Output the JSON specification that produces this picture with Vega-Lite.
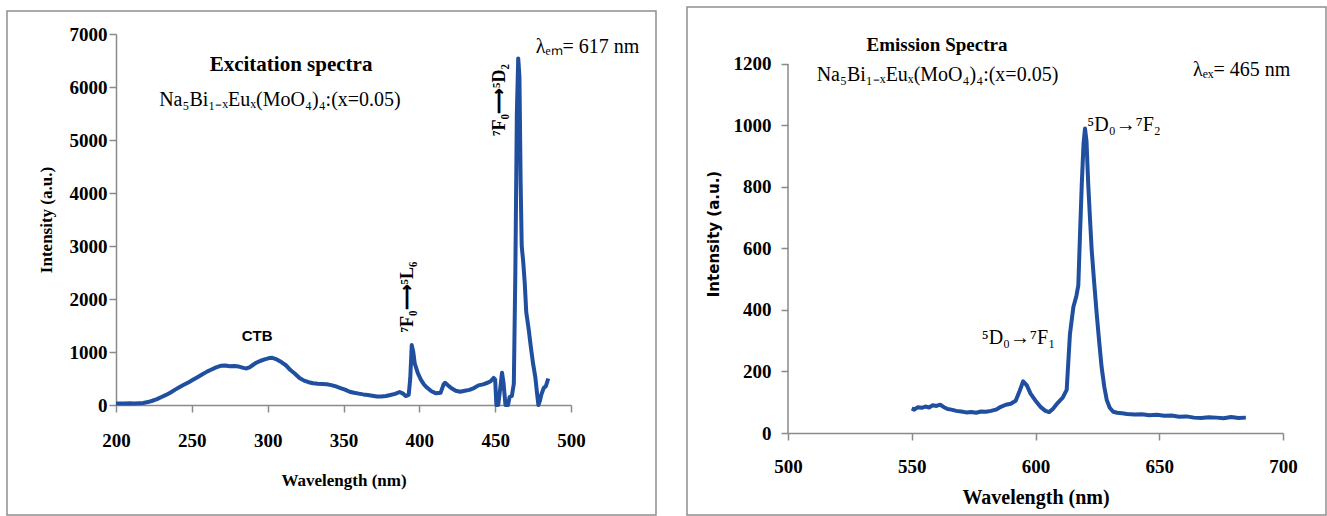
{
  "$schema": "https://vega.github.io/schema/vega-lite/v6.json",
  "padding": {"left": 6, "top": 6, "right": 0, "bottom": 0},
  "background": "white",
  "spacing": 29,
  "config": {
    "view": {"stroke": null},
    "axis": {
      "grid": false,
      "domainColor": "#8a8a8a",
      "tickColor": "#8a8a8a",
      "domainWidth": 1.5,
      "tickWidth": 1.5,
      "tickSize": 7,
      "labelFont": "Liberation Serif",
      "labelFontWeight": "bold",
      "labelFontSize": 19,
      "labelColor": "black",
      "titleColor": "black",
      "labelFlush": false,
      "labelOverlap": false,
      "labelBound": false
    },
    "text": {"color": "black"}
  },
  "datasets": {
    "excitation": [
      {"wl": 200, "i": 28}, {"wl": 203, "i": 30}, {"wl": 206, "i": 28}, {"wl": 209, "i": 32}, {"wl": 212, "i": 30},
      {"wl": 215, "i": 35}, {"wl": 218, "i": 38}, {"wl": 221, "i": 55}, {"wl": 224, "i": 80}, {"wl": 227, "i": 110},
      {"wl": 230, "i": 150}, {"wl": 233, "i": 190}, {"wl": 236, "i": 235}, {"wl": 239, "i": 290}, {"wl": 242, "i": 340},
      {"wl": 245, "i": 385}, {"wl": 248, "i": 430}, {"wl": 251, "i": 480}, {"wl": 254, "i": 530}, {"wl": 257, "i": 580},
      {"wl": 260, "i": 630}, {"wl": 263, "i": 670}, {"wl": 266, "i": 710}, {"wl": 269, "i": 740}, {"wl": 272, "i": 745},
      {"wl": 275, "i": 730}, {"wl": 278, "i": 735}, {"wl": 281, "i": 725}, {"wl": 284, "i": 700}, {"wl": 286, "i": 690},
      {"wl": 288, "i": 710}, {"wl": 290, "i": 750}, {"wl": 292, "i": 790}, {"wl": 295, "i": 830}, {"wl": 298, "i": 860},
      {"wl": 301, "i": 885}, {"wl": 303, "i": 890}, {"wl": 306, "i": 860}, {"wl": 309, "i": 810}, {"wl": 312, "i": 750},
      {"wl": 315, "i": 660}, {"wl": 318, "i": 590}, {"wl": 321, "i": 510}, {"wl": 324, "i": 460}, {"wl": 327, "i": 430},
      {"wl": 330, "i": 410}, {"wl": 333, "i": 400}, {"wl": 336, "i": 395}, {"wl": 339, "i": 390}, {"wl": 342, "i": 375},
      {"wl": 345, "i": 350}, {"wl": 348, "i": 320}, {"wl": 351, "i": 290}, {"wl": 354, "i": 250}, {"wl": 357, "i": 230},
      {"wl": 360, "i": 215}, {"wl": 363, "i": 200}, {"wl": 366, "i": 190}, {"wl": 369, "i": 175}, {"wl": 372, "i": 160},
      {"wl": 375, "i": 160}, {"wl": 378, "i": 170}, {"wl": 381, "i": 190}, {"wl": 384, "i": 210}, {"wl": 387, "i": 245},
      {"wl": 389, "i": 220}, {"wl": 391, "i": 170}, {"wl": 393, "i": 190}, {"wl": 394, "i": 500}, {"wl": 395, "i": 1130},
      {"wl": 396, "i": 1000}, {"wl": 397, "i": 780}, {"wl": 399, "i": 600}, {"wl": 401, "i": 480}, {"wl": 403, "i": 390},
      {"wl": 405, "i": 330}, {"wl": 408, "i": 260}, {"wl": 411, "i": 220}, {"wl": 414, "i": 230}, {"wl": 416, "i": 390},
      {"wl": 417, "i": 420}, {"wl": 419, "i": 370}, {"wl": 421, "i": 320}, {"wl": 424, "i": 270}, {"wl": 427, "i": 250},
      {"wl": 430, "i": 270}, {"wl": 433, "i": 285}, {"wl": 436, "i": 320}, {"wl": 439, "i": 370}, {"wl": 442, "i": 390},
      {"wl": 445, "i": 420}, {"wl": 447, "i": 450}, {"wl": 448, "i": 480}, {"wl": 449, "i": 510}, {"wl": 450, "i": 480},
      {"wl": 450.8, "i": 0}, {"wl": 452, "i": 0}, {"wl": 453.5, "i": 350}, {"wl": 454.5, "i": 610}, {"wl": 455.5, "i": 420},
      {"wl": 456.8, "i": 0}, {"wl": 458.5, "i": 0}, {"wl": 459.5, "i": 150}, {"wl": 461, "i": 170}, {"wl": 462.3, "i": 400},
      {"wl": 463.3, "i": 2500}, {"wl": 464.3, "i": 5500}, {"wl": 465.2, "i": 6540}, {"wl": 466, "i": 6200}, {"wl": 466.8, "i": 4200},
      {"wl": 467.5, "i": 3000}, {"wl": 468.5, "i": 2700}, {"wl": 469.5, "i": 2300}, {"wl": 470.5, "i": 1750}, {"wl": 472, "i": 1450},
      {"wl": 473.5, "i": 1100}, {"wl": 475, "i": 780}, {"wl": 476.5, "i": 520}, {"wl": 477.5, "i": 250}, {"wl": 478.5, "i": 0},
      {"wl": 479.5, "i": 80}, {"wl": 480.5, "i": 200}, {"wl": 482, "i": 320}, {"wl": 483.5, "i": 360}, {"wl": 485, "i": 500}
    ],
    "emission": [
      {"wl": 550, "i": 80}, {"wl": 551, "i": 76}, {"wl": 552.5, "i": 84}, {"wl": 554, "i": 82}, {"wl": 555.5, "i": 86},
      {"wl": 557, "i": 83}, {"wl": 558.5, "i": 90}, {"wl": 560, "i": 88}, {"wl": 561.5, "i": 92}, {"wl": 563, "i": 84},
      {"wl": 564.5, "i": 78}, {"wl": 566, "i": 76}, {"wl": 568, "i": 72}, {"wl": 570, "i": 70}, {"wl": 572, "i": 67},
      {"wl": 574, "i": 68}, {"wl": 576, "i": 66}, {"wl": 578, "i": 70}, {"wl": 580, "i": 69}, {"wl": 582, "i": 72},
      {"wl": 584, "i": 76}, {"wl": 586, "i": 85}, {"wl": 588, "i": 92}, {"wl": 590, "i": 95}, {"wl": 592, "i": 105},
      {"wl": 593.5, "i": 135}, {"wl": 595, "i": 168}, {"wl": 596.5, "i": 155}, {"wl": 598, "i": 128}, {"wl": 600, "i": 105},
      {"wl": 602, "i": 85}, {"wl": 604, "i": 72}, {"wl": 605.5, "i": 68}, {"wl": 607, "i": 78}, {"wl": 609, "i": 98},
      {"wl": 611, "i": 115}, {"wl": 612.6, "i": 140}, {"wl": 613.9, "i": 320}, {"wl": 615.3, "i": 410}, {"wl": 616.5, "i": 445},
      {"wl": 617.3, "i": 480}, {"wl": 618, "i": 650}, {"wl": 618.7, "i": 810}, {"wl": 619.4, "i": 940}, {"wl": 620, "i": 990},
      {"wl": 620.6, "i": 950}, {"wl": 621.3, "i": 810}, {"wl": 622, "i": 700}, {"wl": 622.7, "i": 595}, {"wl": 623.7, "i": 490},
      {"wl": 624.7, "i": 390}, {"wl": 625.7, "i": 300}, {"wl": 626.7, "i": 215}, {"wl": 627.8, "i": 150}, {"wl": 628.8, "i": 107},
      {"wl": 630, "i": 82}, {"wl": 631.4, "i": 69}, {"wl": 633, "i": 66}, {"wl": 635, "i": 64}, {"wl": 637, "i": 62},
      {"wl": 640, "i": 60}, {"wl": 643, "i": 61}, {"wl": 646, "i": 58}, {"wl": 649, "i": 59}, {"wl": 652, "i": 56},
      {"wl": 655, "i": 57}, {"wl": 658, "i": 53}, {"wl": 661, "i": 54}, {"wl": 664, "i": 50}, {"wl": 667, "i": 49},
      {"wl": 670, "i": 51}, {"wl": 673, "i": 50}, {"wl": 676, "i": 48}, {"wl": 679, "i": 52}, {"wl": 682, "i": 49},
      {"wl": 685, "i": 50}
    ]
  },
  "hconcat": [
    {
      "width": 455,
      "height": 371,
      "layer": [
        {
          "data": {"values": [{"frame": "left"}]},
          "mark": {"type": "rect", "fillOpacity": 0, "stroke": "#8f8f8f", "strokeWidth": 1.5},
          "encoding": {
            "x": {"datum": 128.13, "type": "quantitative"},
            "x2": {"datum": 556.04},
            "y": {"datum": -2075, "type": "quantitative"},
            "y2": {"datum": 7434}
          }
        },
        {
          "data": {"name": "excitation"},
          "mark": {"type": "line", "color": "#1f4f9e", "strokeWidth": 4, "strokeJoin": "round"},
          "encoding": {
            "x": {
              "field": "wl", "type": "quantitative",
              "scale": {"domain": [200, 500], "nice": false, "zero": false},
              "axis": {
                "title": "Wavelength (nm)",
                "values": [200, 250, 300, 350, 400, 450, 500],
                "format": "d",
                "labelPadding": 19,
                "titleFont": "Liberation Serif", "titleFontSize": 17, "titleFontWeight": "bold",
                "titlePadding": 22
              }
            },
            "y": {
              "field": "i", "type": "quantitative",
              "scale": {"domain": [0, 7000], "nice": false},
              "axis": {
                "title": "Intensity (a.u.)",
                "values": [0, 1000, 2000, 3000, 4000, 5000, 6000, 7000],
                "format": "d",
                "labelPadding": 2,
                "titleFont": "Liberation Serif", "titleFontSize": 17, "titleFontWeight": "bold",
                "titlePadding": 14
              }
            }
          }
        },
        {
          "data": {"values": [{"label": "Excitation spectra", "wl": 315.4, "i": 6415}]},
          "mark": {"type": "text", "font": "Liberation Serif", "fontSize": 21, "fontWeight": "bold", "align": "center", "baseline": "middle"},
          "encoding": {"x": {"field": "wl", "type": "quantitative"}, "y": {"field": "i", "type": "quantitative"}, "text": {"field": "label"}}
        },
        {
          "data": {"values": [
            {"label": "Na₅Bi₁₋ₓEuₓ(MoO₄)₄:(x=0.05)", "wl": 308.1, "i": 5755},
            {"label": "λₑₘ= 617 nm", "wl": 510.9, "i": 6755}
          ]},
          "mark": {"type": "text", "font": "Liberation Serif", "fontSize": 20, "align": "center", "baseline": "middle"},
          "encoding": {"x": {"field": "wl", "type": "quantitative"}, "y": {"field": "i", "type": "quantitative"}, "text": {"field": "label"}}
        },
        {
          "data": {"values": [
            {"label": "⁷F₀⟶⁵D₂", "wl": 453.2, "i": 5755},
            {"label": "⁷F₀⟶⁵L₆", "wl": 392.5, "i": 2038}
          ]},
          "mark": {"type": "text", "font": "Liberation Serif", "fontSize": 18, "fontWeight": "bold", "angle": 270, "align": "center", "baseline": "middle"},
          "encoding": {"x": {"field": "wl", "type": "quantitative"}, "y": {"field": "i", "type": "quantitative"}, "text": {"field": "label"}}
        },
        {
          "data": {"values": [{"label": "CTB", "wl": 293, "i": 1302}]},
          "mark": {"type": "text", "font": "Liberation Sans", "fontSize": 15, "fontWeight": "bold", "align": "center", "baseline": "middle"},
          "encoding": {"x": {"field": "wl", "type": "quantitative"}, "y": {"field": "i", "type": "quantitative"}, "text": {"field": "label"}}
        }
      ]
    },
    {
      "width": 495,
      "height": 399,
      "layer": [
        {
          "data": {"values": [{"frame": "right"}]},
          "mark": {"type": "rect", "fillOpacity": 0, "stroke": "#8f8f8f", "strokeWidth": 1.5},
          "encoding": {
            "x": {"datum": 459.19, "type": "quantitative"},
            "x2": {"datum": 717.37},
            "y": {"datum": -266.7, "type": "quantitative"},
            "y2": {"datum": 1385.4}
          }
        },
        {
          "data": {"values": [{"axis": "y"}]},
          "mark": {"type": "rule", "color": "#8a8a8a", "strokeWidth": 1.5},
          "encoding": {
            "x": {"datum": 500, "type": "quantitative"},
            "y": {"datum": 0, "type": "quantitative"},
            "y2": {"datum": 1200}
          }
        },
        {
          "data": {"name": "emission"},
          "mark": {"type": "line", "color": "#1f4f9e", "strokeWidth": 4, "strokeJoin": "round"},
          "encoding": {
            "x": {
              "field": "wl", "type": "quantitative",
              "scale": {"domain": [500, 700], "nice": false, "zero": false},
              "axis": {
                "title": "Wavelength (nm)",
                "values": [500, 550, 600, 650, 700],
                "format": "d",
                "labelPadding": 17,
                "titleFont": "Liberation Serif", "titleFontSize": 20, "titleFontWeight": "bold",
                "titlePadding": 11
              }
            },
            "y": {
              "field": "i", "type": "quantitative",
              "scale": {"domain": [0, 1297.56], "nice": false},
              "axis": {
                "title": "Intensity (a.u.)",
                "values": [0, 200, 400, 600, 800, 1000, 1200],
                "format": "d",
                "domain": false,
                "labelPadding": 10,
                "titleFont": "DejaVu Sans", "titleFontSize": 15, "titleFontWeight": "bold",
                "titlePadding": 12
              }
            }
          }
        },
        {
          "data": {"values": [{"label": "Emission Spectra", "wl": 560.2, "i": 1262}]},
          "mark": {"type": "text", "font": "Liberation Serif", "fontSize": 19, "fontWeight": "bold", "align": "center", "baseline": "middle"},
          "encoding": {"x": {"field": "wl", "type": "quantitative"}, "y": {"field": "i", "type": "quantitative"}, "text": {"field": "label"}}
        },
        {
          "data": {"values": [
            {"label": "Na₅Bi₁₋ₓEuₓ(MoO₄)₄:(x=0.05)", "wl": 560.4, "i": 1164},
            {"label": "λₑₓ= 465 nm", "wl": 683.3, "i": 1180},
            {"label": "⁵D₀→⁷F₂", "wl": 635.8, "i": 1002},
            {"label": "⁵D₀→⁷F₁", "wl": 593.1, "i": 309}
          ]},
          "mark": {"type": "text", "font": "Liberation Serif", "fontSize": 20, "align": "center", "baseline": "middle"},
          "encoding": {"x": {"field": "wl", "type": "quantitative"}, "y": {"field": "i", "type": "quantitative"}, "text": {"field": "label"}}
        }
      ]
    }
  ]
}
